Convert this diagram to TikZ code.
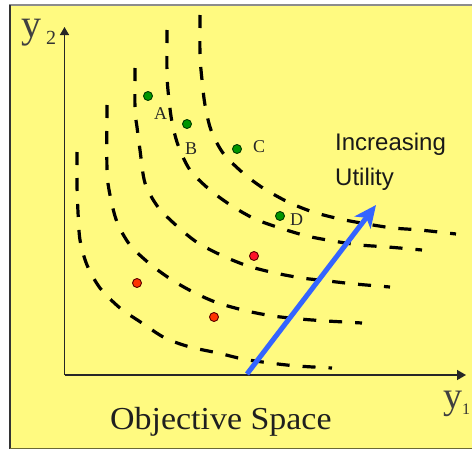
\documentclass[tikz,border=0pt]{standalone}
\usepackage{fontspec}
\setmainfont{Liberation Serif}
\newfontfamily\sansf{Liberation Sans}
\usetikzlibrary{arrows.meta}
\definecolor{bgyellow}{RGB}{255,250,128}
\definecolor{arrblue}{RGB}{52,100,255}
\definecolor{ptgreen}{RGB}{0,150,0}
\definecolor{ptgreenline}{RGB}{0,60,0}
\definecolor{ptred}{RGB}{255,20,40}
\definecolor{ptorange}{RGB}{255,50,0}
\definecolor{ptredline}{RGB}{90,0,0}
\tikzset{
  indiff/.style={line width=3.2pt, dash pattern=on 13pt off 13pt, black},
  axisline/.style={line width=1.5pt, black!85},
  gpt/.style={circle, minimum size=9pt, inner sep=0pt, fill=ptgreen, draw=ptgreenline, line width=0.9pt},
  rpt/.style={circle, minimum size=9pt, inner sep=0pt, fill=ptorange, draw=ptredline, line width=0.9pt},
  ptlabel/.style={font=\fontsize{18}{18}\selectfont, anchor=base west, inner sep=0pt, text=black!85},
  utiltext/.style={font=\sansf\fontsize{24}{24}\selectfont, anchor=base west, inner sep=0pt, text=black!90},
}
\begin{document}
\begin{tikzpicture}[x=1pt,y=-1pt]
\useasboundingbox (0,0) rectangle (472,450);
\clip (0,0) rectangle (472,450);
% frame
\fill[bgyellow] (10,5) rectangle (472,448);
\draw[line width=2pt, black!45] (9,5) -- (472,5);
\draw[line width=2pt, black!80] (10,5) -- (10,449);
\draw[line width=1.5pt, black!40!bgyellow!70!black] (10,448.5) -- (472,448.5);
% indifference curves
\draw[indiff] plot[smooth] coordinates {(200,15) (200,55) (202,80) (205,105) (211,130) (223,153) (243,173) (263,188) (288,202) (313,212) (340,219) (367,224) (393,228) (420,230) (456,234)};
\draw[indiff] plot[smooth] coordinates {(167,30) (167,75) (169,100) (172,122) (178,145) (190,170) (210,190) (232,206) (255,219) (280,228) (307,236) (333,241) (360,245) (388,247) (422,250)};
\draw[indiff] plot[smooth] coordinates {(135,68) (135,110) (137,127) (140,150) (145,183) (158,207) (178,227) (198,243) (223,256) (248,266) (275,273) (302,278) (328,281) (355,284) (390,287)};
\draw[indiff] plot[smooth] coordinates {(107,105) (107,170) (110,195) (117,222) (130,245) (150,264) (172,280) (195,293) (218,303) (247,311) (273,316) (300,319) (327,321) (362,323)};
\draw[indiff] plot[smooth] coordinates {(77,152) (77,185) (78,212) (80,240) (87,265) (100,288) (120,308) (142,323) (165,338) (190,347) (218,353) (243,359) (270,363) (297,366) (332,368)};
% axes
\coordinate (orig) at (64.5,375);
\coordinate (ytip) at (64.5,27);
\coordinate (xtip) at (466,375);
\draw[axisline, -{Triangle[length=8pt,width=9pt]}] (orig) -- (ytip);
\draw[axisline, -{Triangle[length=9pt,width=10pt]}] (orig) -- (xtip);
\node[font=\fontsize{40}{40}\selectfont, anchor=base west, inner sep=0pt, text=black!75] (y2) at (21,37) {y};
\node[font=\fontsize{20}{20}\selectfont, anchor=base west, inner sep=0pt, text=black!80] (y2sub) at (46,44) {2};
\node[font=\fontsize{38}{38}\selectfont, anchor=base west, inner sep=0pt, text=black!75] (y1) at (443,408) {y};
\node[font=\fontsize{16}{16}\selectfont, anchor=base west, inner sep=0pt, text=black!80] (y1sub) at (462,414) {1};
% points
\node[gpt] (A) at (148,96) {};
\node[gpt] (B) at (187,124) {};
\node[gpt] (C) at (237,149) {};
\node[gpt] (D) at (280,216) {};
\node[ptlabel] (lA) at (154,119) {A};
\node[ptlabel] (lB) at (185,154) {B};
\node[ptlabel] (lC) at (253,152) {C};
\node[ptlabel] (lD) at (290,225) {D};
\node[rpt, fill=ptred] (R1) at (254,256) {};
\node[rpt] (R2) at (137,283) {};
\node[rpt] (R3) at (214,317) {};
% utility arrow
\coordinate (uS) at (247,374);
\coordinate (uE) at (376,205);
\draw[line width=5pt, arrblue, -{Stealth[length=22pt,width=20pt,inset=6pt]}] (uS) -- (uE);
\node[utiltext] (inc) at (335,150) {Increasing};
\node[utiltext] (util) at (335,185) {Utility};
% caption
\node[anchor=base west, inner sep=0pt, font=\fontsize{32}{32}\selectfont, text=black!88] (cap) at (110,429) {\scalebox{1.06}[1]{Objective Space}};
\end{tikzpicture}
\end{document}
